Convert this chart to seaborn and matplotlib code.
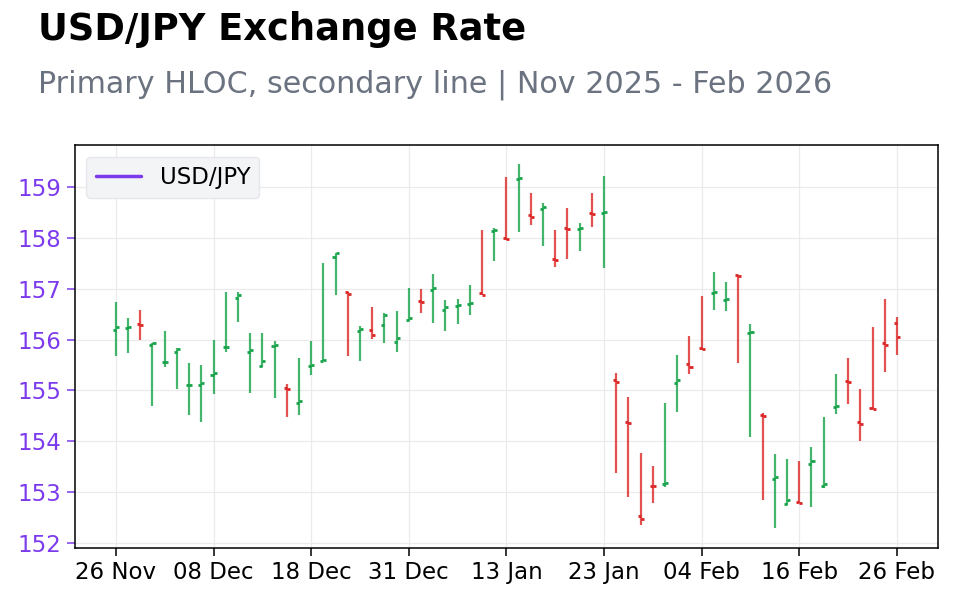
import pandas as pd
import seaborn as sns
import matplotlib
matplotlib.use("Agg")
import matplotlib.pyplot as plt
from matplotlib.lines import Line2D

# trading days, Nov 26 2025 - Feb 26 2026 (Christmas and New Year closed)
dates = pd.bdate_range("2025-11-26", "2026-02-26", freq="C",
                       holidays=["2025-12-25", "2026-01-01"])

opens = [156.19, 156.23, 156.31, 155.90, 155.55, 155.76, 155.10, 155.11, 155.31, 155.85,
         156.82, 155.76, 155.48, 155.88, 155.04, 154.76, 155.49, 155.58, 157.62, 156.93,
         156.18, 156.19, 156.29, 155.95, 156.38, 156.76, 156.97, 156.59, 156.67, 156.70,
         156.91, 158.14, 158.01, 159.17, 158.46, 158.58, 157.59, 158.20, 158.17, 158.49,
         158.50, 155.21, 154.37, 152.52, 153.12, 153.15, 155.15, 155.52, 155.84, 156.92,
         156.78, 157.27, 156.13, 154.52, 153.25, 152.76, 152.81, 153.56, 153.12, 154.68,
         155.19, 154.37, 154.65, 155.93, 156.33]
highs = [156.74, 156.42, 156.58, 155.93, 156.18, 155.83, 155.54, 155.50, 155.99, 156.93,
         156.93, 156.14, 156.13, 155.97, 155.12, 155.63, 155.97, 157.50, 157.70, 156.93,
         156.26, 156.65, 156.52, 156.56, 157.01, 157.00, 157.30, 156.79, 156.81, 157.07,
         158.16, 158.20, 159.20, 159.45, 158.88, 158.69, 158.16, 158.59, 158.30, 158.88,
         159.22, 155.34, 154.87, 153.77, 153.52, 154.75, 155.69, 156.08, 156.85, 157.34,
         157.14, 157.27, 156.30, 154.55, 153.75, 153.65, 153.61, 153.89, 154.48, 155.32,
         155.63, 155.03, 156.24, 156.81, 156.44]
lows = [155.67, 155.73, 155.99, 154.70, 155.46, 155.03, 154.52, 154.37, 154.92, 155.76,
        156.35, 154.95, 155.47, 154.85, 154.47, 154.51, 155.30, 155.58, 156.88, 155.68,
        155.58, 156.01, 155.93, 155.76, 156.36, 156.52, 156.33, 156.17, 156.31, 156.48,
        156.88, 157.54, 157.97, 158.13, 158.25, 157.84, 157.44, 157.58, 157.75, 158.22,
        157.41, 153.37, 152.90, 152.35, 152.78, 153.09, 154.58, 155.33, 155.80, 156.58,
        156.56, 155.54, 154.09, 152.84, 152.29, 152.74, 152.78, 152.71, 153.07, 154.54,
        154.74, 154.01, 154.63, 155.37, 155.70]
closes = [156.24, 156.24, 156.29, 155.94, 155.56, 155.82, 155.11, 155.14, 155.35, 155.86,
          156.87, 155.80, 155.58, 155.89, 155.02, 154.79, 155.51, 155.60, 157.70, 156.90,
          156.20, 156.10, 156.48, 156.03, 156.42, 156.74, 157.01, 156.64, 156.69, 156.73,
          156.88, 158.16, 157.99, 159.18, 158.42, 158.62, 157.56, 158.18, 158.19, 158.47,
          158.52, 155.17, 154.35, 152.46, 153.11, 153.17, 155.21, 155.46, 155.81, 156.93,
          156.80, 157.25, 156.15, 154.50, 153.29, 152.84, 152.79, 153.61, 153.15, 154.70,
          155.16, 154.34, 154.63, 155.90, 156.05]

df = pd.DataFrame({"date": dates, "open": opens, "high": highs,
                   "low": lows, "close": closes})
df["pos"] = range(len(df))
df["up"] = df["close"] >= df["open"]

UP = "#16a34a"
DOWN = "#dc2626"
PURPLE = "#7c3aed"

sns.set_theme(style="whitegrid", rc={
    "grid.color": "#ebebeb", "grid.linewidth": 0.9,
    "axes.edgecolor": "black", "axes.linewidth": 1.1,
    "xtick.bottom": True, "ytick.left": True,
    "xtick.major.size": 6, "ytick.major.size": 6,
    "xtick.major.width": 1.1, "ytick.major.width": 1.1,
})
plt.rcParams["font.family"] = ["DejaVu Sans"]

fig = plt.figure(figsize=(9.6, 6), dpi=100)
ax = fig.add_axes([0.078, 0.087, 0.899, 0.671])

for up, sub in df.groupby("up"):
    c = UP if up else DOWN
    ax.vlines(sub["pos"], sub["low"], sub["high"], color=c, alpha=0.8, linewidth=1.6)
    ax.hlines(sub["open"], sub["pos"] - 0.25, sub["pos"], color=c, linewidth=2)
    ax.hlines(sub["close"], sub["pos"], sub["pos"] + 0.25, color=c, linewidth=2)

ax.set_xlim(-3.36, 67.36)
ax.set_ylim(151.9, 159.83)
ticks = df["pos"][::8]
ax.set_xticks(ticks)
ax.set_xticklabels(df["date"][::8].dt.strftime("%d %b"), fontsize=16.5, color="black")
ax.set_yticks(range(152, 160))
ax.tick_params(axis="y", colors=PURPLE, labelsize=16.5)
ax.tick_params(axis="x", colors="black")

handle = Line2D([], [], color=PURPLE, linewidth=2.5)
leg = ax.legend([handle], ["USD/JPY"], loc="upper left", fontsize=16.5,
                frameon=True, facecolor="#f3f4f6", edgecolor="#e5e7eb",
                labelcolor="black")
leg.get_frame().set_alpha(1)

fig.text(0.04, 0.982, "USD/JPY Exchange Rate", fontsize=26.5, fontweight="bold",
         va="top", ha="left", color="black")
fig.text(0.04, 0.885, "Primary HLOC, secondary line | Nov 2025 - Feb 2026",
         fontsize=21.7, va="top", ha="left", color="#6b7280")

plt.savefig("out.png", dpi=100)
plt.close()
